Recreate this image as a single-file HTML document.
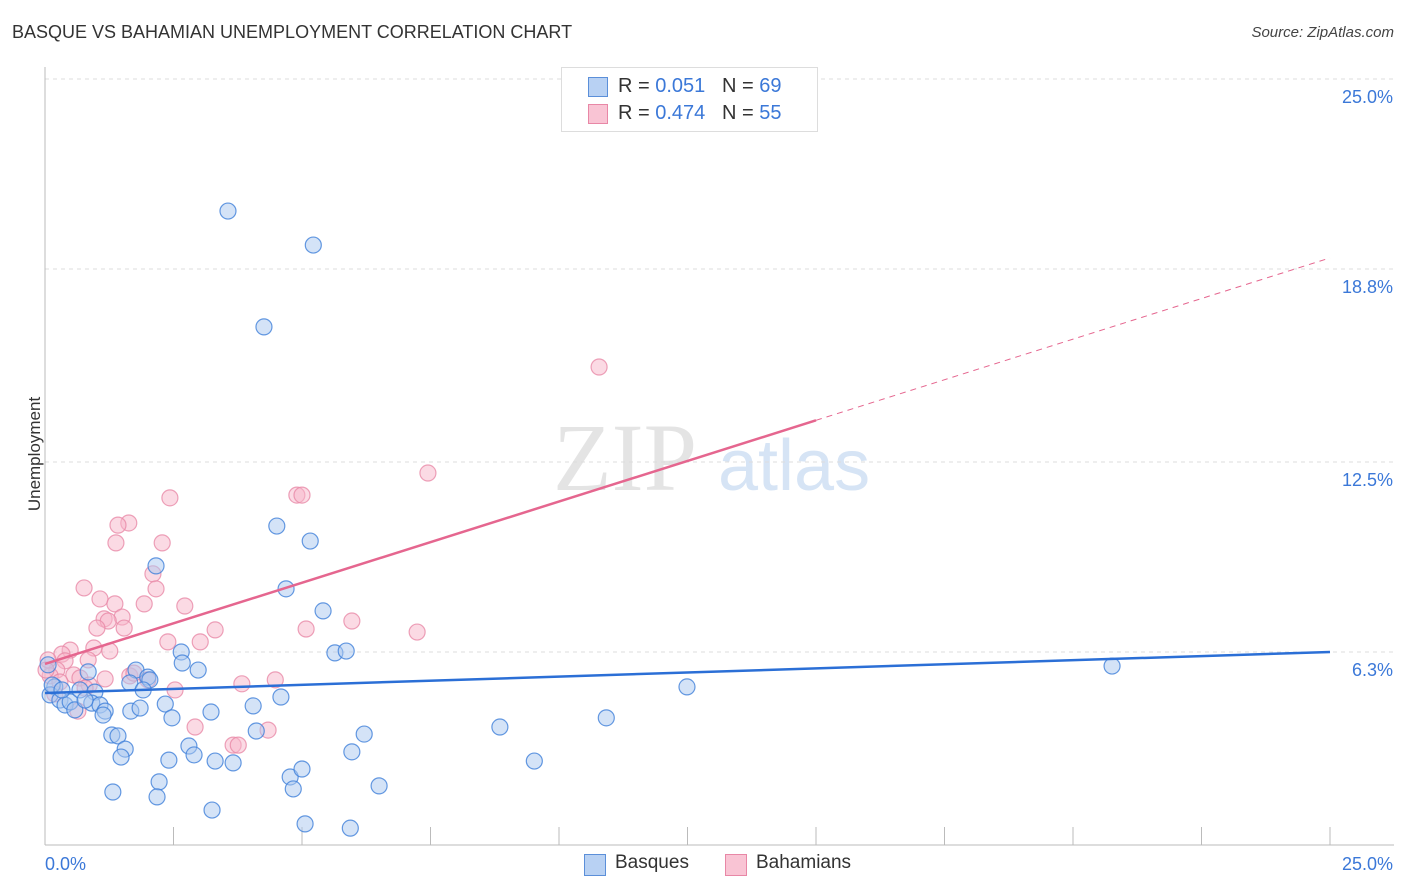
<!DOCTYPE html>
<html><head><meta charset="utf-8">
<style>
body{margin:0;background:#fff;font-family:"Liberation Sans",sans-serif;}
#wrap{position:relative;width:1406px;height:892px;overflow:hidden;}
.t{position:absolute;white-space:nowrap;}
</style></head>
<body>
<div id="wrap">
<div class="t" style="left:12px;top:22px;font-size:18px;color:#333;">BASQUE VS BAHAMIAN UNEMPLOYMENT CORRELATION CHART</div>
<div class="t" style="right:12px;top:24px;font-size:15px;color:#444;font-style:italic;">Source: ZipAtlas.com</div>
<div class="t" style="left:-22px;top:444px;font-size:17px;color:#333;transform:rotate(-90deg);">Unemployment</div>
<svg id="svg" width="1406" height="892" style="position:absolute;left:0;top:0"></svg>
<div style="position:absolute;left:561px;top:67px;width:255px;height:63px;border:1px solid #ddd;background:#fff;font-size:20px;color:#333;">
  <div style="position:absolute;left:26px;top:9px;width:18px;height:18px;background:#b8d1f3;border:1px solid #5b8fd9;"></div>
  <div class="t" style="left:56px;top:7px;">R = <span style="color:#3b78d8">0.051</span> &nbsp;&nbsp;N = <span style="color:#3b78d8">69</span></div>
  <div style="position:absolute;left:26px;top:36px;width:18px;height:18px;background:#f9c4d4;border:1px solid #e887a6;"></div>
  <div class="t" style="left:56px;top:34px;">R = <span style="color:#3b78d8">0.474</span> &nbsp;&nbsp;N = <span style="color:#3b78d8">55</span></div>
</div>
<div style="position:absolute;left:584px;top:852px;font-size:19px;color:#333;">
  <div style="position:absolute;left:0;top:2px;width:20px;height:20px;background:#b8d1f3;border:1px solid #5b8fd9;"></div>
  <div class="t" style="left:31px;top:0;">Basques</div>
  <div style="position:absolute;left:141px;top:2px;width:20px;height:20px;background:#f9c4d4;border:1px solid #e887a6;"></div>
  <div class="t" style="left:172px;top:0;">Bahamians</div>
</div>
</div>
<script>
const yTicks=[25.0,18.8,12.5,6.3];
const yTickLabels=["25.0%","18.8%","12.5%","6.3%"];
const xTickLabels=["0.0%","25.0%"];
const basqueX=[3.56,5.22,4.26,4.51,5.16,2.16,4.69,5.41,5.64,5.86,2.65,2.67,2.98,1.77,2.00,2.04,1.65,1.91,0.84,0.19,0.10,0.29,0.39,0.49,0.68,0.97,0.91,1.07,1.17,1.13,1.67,1.85,2.34,2.47,3.23,4.05,4.59,1.30,1.42,1.56,1.48,2.80,2.90,2.41,3.31,3.66,4.11,6.21,5.97,2.22,2.18,1.32,4.77,5.00,4.83,6.50,3.25,5.06,5.94,8.85,9.52,10.92,12.49,20.76,0.06,0.14,0.58,0.78,0.33];
const basqueY=[20.69,19.58,16.91,10.41,9.92,9.11,8.36,7.64,6.27,6.33,6.30,5.94,5.71,5.71,5.48,5.39,5.29,5.06,5.65,5.16,4.90,4.73,4.57,4.67,5.06,4.99,4.63,4.57,4.37,4.24,4.37,4.47,4.60,4.15,4.34,4.54,4.83,3.59,3.56,3.13,2.87,3.23,2.94,2.77,2.74,2.68,3.72,3.62,3.04,2.06,1.57,1.73,2.22,2.48,1.83,1.93,1.14,0.69,0.55,3.85,2.74,4.15,5.16,5.84,5.88,5.22,4.41,4.73,5.06];
const bahamX=[10.78,7.45,4.90,5.00,2.43,1.63,1.42,1.38,2.28,2.10,2.16,0.76,1.07,1.36,1.93,2.72,1.15,1.50,1.23,1.54,1.01,5.97,5.08,7.24,3.31,2.39,3.02,1.26,0.95,0.49,0.33,0.84,0.39,0.23,0.10,0.56,0.68,1.17,1.65,1.73,2.00,4.48,3.83,2.53,0.86,0.29,0.19,0.64,2.92,4.34,3.66,3.76,0.06,0.02,0.78];
const bahamY=[15.60,12.14,11.42,11.42,11.33,10.51,10.44,9.86,9.86,8.85,8.36,8.39,8.03,7.87,7.87,7.80,7.38,7.44,7.31,7.08,7.08,7.31,7.05,6.95,7.02,6.63,6.63,6.33,6.43,6.36,6.23,6.04,6.01,5.71,5.52,5.55,5.45,5.42,5.52,5.61,5.39,5.39,5.26,5.06,5.22,5.32,4.93,4.37,3.85,3.75,3.26,3.26,6.04,5.71,5.12];
const basqueTrend=[4.96,6.30];
const bahamTrend=[5.91,19.16];
const bahamSolidEnd=15;

const X0=45,X1=1330,Y0=845,YTOP=79;
const sx=v=>X0+v/25*(X1-X0);
const sy=v=>Y0-v/25*(Y0-YTOP);
const svg=document.getElementById('svg');
const NS='http://www.w3.org/2000/svg';
function mk(tag,attrs){const e=document.createElementNS(NS,tag);for(const k in attrs)e.setAttribute(k,attrs[k]);svg.appendChild(e);return e;}
// watermark
let w=mk('text',{x:553,y:490,'font-size':96,'font-family':'Liberation Serif,serif',fill:'#e4e4e4'});w.textContent='ZIP';


let w2=mk('text',{x:718,y:490,'font-size':72,'font-family':'Liberation Sans,sans-serif',fill:'#d6e4f5'});w2.textContent='atlas';


// gridlines & y labels
yTicks.forEach((t,i)=>{
  const g=mk('line',{x1:X0,x2:1394,y1:sy(t),y2:sy(t),stroke:'#ddd','stroke-dasharray':'4,4'});
  
  
  const l=mk('text',{x:1393,y:sy(t)+24,'text-anchor':'end','font-size':18,fill:'#3b78d8','font-family':'Liberation Sans,sans-serif'});
  l.textContent=yTickLabels[i];
  
  
});
// axes
let ax=mk('line',{x1:X0,x2:X0,y1:67,y2:Y0,stroke:'#bbb'});


let bx=mk('line',{x1:X0,x2:1394,y1:Y0,y2:Y0,stroke:'#bbb'});


for(let i=1;i<=10;i++){const t=mk('line',{x1:sx(i*2.5),x2:sx(i*2.5),y1:Y0,y2:Y0-18,stroke:'#bbb'});
  
  }
[[0,45,'start'],[25,1393,'end']].forEach((d,i)=>{const l=mk('text',{x:d[1],y:870,'text-anchor':d[2],'font-size':18,fill:'#3b78d8','font-family':'Liberation Sans,sans-serif'});l.textContent=xTickLabels[i];
  
  });
// points
function pts(xs,ys,fill,stroke,name){xs.forEach((x,i)=>{const c=mk('circle',{cx:sx(x),cy:sy(ys[i]),r:8,fill:fill,'fill-opacity':0.5,stroke:stroke,'stroke-width':1.2,'stroke-opacity':0.8});
  
  });}
pts(bahamX,bahamY,'#f7b6c9','#e889a8','bahamian-point');
pts(basqueX,basqueY,'#aac8f0','#3f7fd9','basque-point');
// trend lines
const bt=mk('line',{x1:sx(0),y1:sy(basqueTrend[0]),x2:sx(25),y2:sy(basqueTrend[1]),stroke:'#2b6fd6','stroke-width':2.5});


const hy=v=>bahamTrend[0]+(bahamTrend[1]-bahamTrend[0])*v/25;
const pt=mk('line',{x1:sx(0),y1:sy(hy(0)),x2:sx(bahamSolidEnd),y2:sy(hy(bahamSolidEnd)),stroke:'#e5668f','stroke-width':2.5});


const pd=mk('line',{x1:sx(bahamSolidEnd),y1:sy(hy(bahamSolidEnd)),x2:sx(25),y2:sy(hy(25)),stroke:'#e5668f','stroke-width':1,'stroke-dasharray':'6,5'});


</script>
</body></html>
